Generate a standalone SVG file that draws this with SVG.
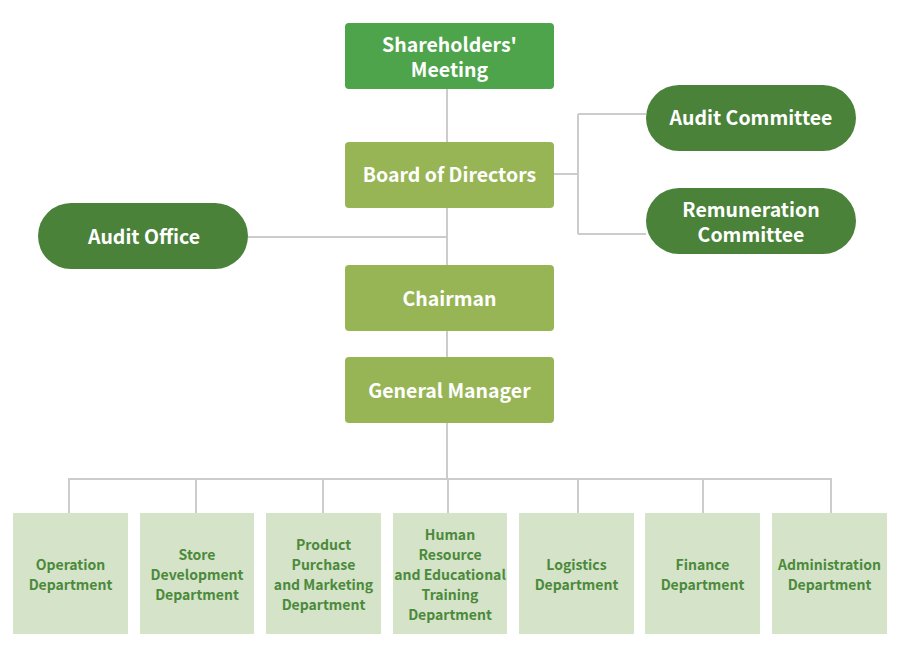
<svg xmlns="http://www.w3.org/2000/svg" width="900" height="648" viewBox="0 0 900 648">
<style>
.t{font-family:"Noto Sans CJK TC","Noto Sans",sans-serif;font-weight:bold;text-anchor:middle;dominant-baseline:central}
.w{fill:#ffffff;font-size:19.5px}
.d{fill:#4b8a3c;font-size:14px}
.top{fill:#4ea44a}
.mid{fill:#98b556}
.pill{fill:#4a8239}
.dept{fill:#d5e3c8}
.c{stroke:#cccccc;stroke-width:2;fill:none}
</style>
<rect width="900" height="648" fill="#ffffff"/>
<g id="connectors">
<path class="c" d="M447,89V357M447,423V479M248,237H447M554,174H578M578,114V234M578,114H646M578,234H646"/>
<path class="c" d="M69,513V479H831V513M196,479V513M323,479V513M448,479V513M578,479V513M703,479V513"/>
</g>
<g id="shareholders">
<rect class="top" x="345" y="23" width="209" height="66" rx="4"/>
<text class="t w" x="449.5" y="43.5">Shareholders'</text>
<text class="t w" x="449.5" y="68.5">Meeting</text>
</g>
<g id="board">
<rect class="mid" x="345" y="142" width="209" height="66" rx="4"/>
<text class="t w" x="449.5" y="173.5">Board of Directors</text>
</g>
<g id="audit-committee">
<rect class="pill" x="646" y="85" width="210" height="66" rx="33"/>
<text class="t w" x="751" y="116.5">Audit Committee</text>
</g>
<g id="remuneration-committee">
<rect class="pill" x="646" y="188" width="210" height="66" rx="33"/>
<text class="t w" x="751" y="208.5">Remuneration</text>
<text class="t w" x="751" y="233.5">Committee</text>
</g>
<g id="audit-office">
<rect class="pill" x="38" y="203" width="210" height="66" rx="33"/>
<text class="t w" x="144" y="235.5">Audit Office</text>
</g>
<g id="chairman">
<rect class="mid" x="345" y="265" width="209" height="66" rx="4"/>
<text class="t w" x="449.5" y="297.5">Chairman</text>
</g>
<g id="general-manager">
<rect class="mid" x="345" y="357" width="209" height="66" rx="4"/>
<text class="t w" x="449.5" y="389.5">General Manager</text>
</g>
<g id="operation">
<rect class="dept" x="13" y="513" width="115" height="121"/>
<text class="t d" x="70.5" y="563.5">Operation</text>
<text class="t d" x="70.5" y="583.5">Department</text>
</g>
<g id="store-development">
<rect class="dept" x="140" y="513" width="114" height="121"/>
<text class="t d" x="197" y="553.5">Store</text>
<text class="t d" x="197" y="573.5">Development</text>
<text class="t d" x="197" y="593.5">Department</text>
</g>
<g id="product-purchase">
<rect class="dept" x="266" y="513" width="115" height="121"/>
<text class="t d" x="323.5" y="543.5">Product</text>
<text class="t d" x="323.5" y="563.5">Purchase</text>
<text class="t d" x="323.5" y="583.5">and Marketing</text>
<text class="t d" x="323.5" y="603.5">Department</text>
</g>
<g id="human-resource">
<rect class="dept" x="393" y="513" width="114" height="121"/>
<text class="t d" x="450" y="533.5">Human</text>
<text class="t d" x="450" y="553.5">Resource</text>
<text class="t d" x="450" y="573.5">and Educational</text>
<text class="t d" x="450" y="593.5">Training</text>
<text class="t d" x="450" y="613.5">Department</text>
</g>
<g id="logistics">
<rect class="dept" x="519" y="513" width="115" height="121"/>
<text class="t d" x="576.5" y="563.5">Logistics</text>
<text class="t d" x="576.5" y="583.5">Department</text>
</g>
<g id="finance">
<rect class="dept" x="645" y="513" width="115" height="121"/>
<text class="t d" x="702.5" y="563.5">Finance</text>
<text class="t d" x="702.5" y="583.5">Department</text>
</g>
<g id="administration">
<rect class="dept" x="772" y="513" width="115" height="121"/>
<text class="t d" x="829.5" y="563.5">Administration</text>
<text class="t d" x="829.5" y="583.5">Department</text>
</g>
</svg>
